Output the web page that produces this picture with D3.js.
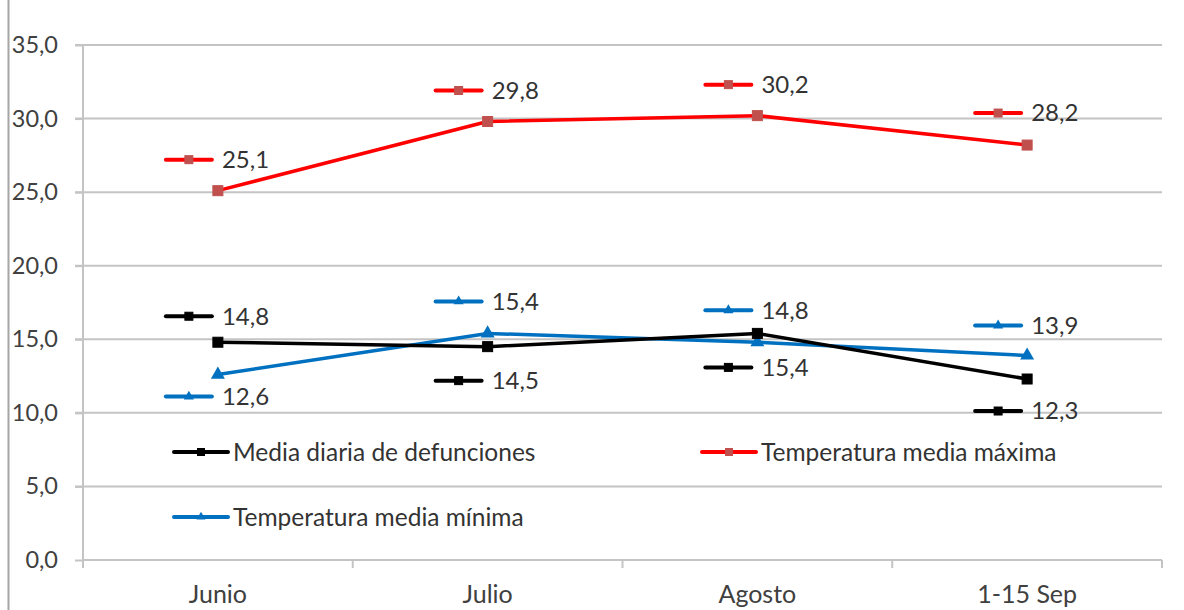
<!DOCTYPE html>
<html><head><meta charset="utf-8">
<script src="https://cdn.jsdelivr.net/npm/d3@7"></script>
<style>body{margin:0;background:#fff}svg{display:block}text{font-family:Lato,"Open Sans",sans-serif}</style>
</head><body><svg id="c" width="1184" height="610"></svg>
<script>
const categories = ["Junio","Julio","Agosto","1-15 Sep"];
const defunciones = [14.8,14.5,15.4,12.3];
const tempMax = [25.1,29.8,30.2,28.2];
const tempMin = [12.6,15.4,14.8,13.9];
const yTicks = [0,5,10,15,20,25,30,35];
const seriesNames = ["Media diaria de defunciones","Temperatura media máxima","Temperatura media mínima"];
// label offsets (px, positive = below point)
const labelDy = {
  def:[-26,34,34,32],
  max:[-31,-31,-31,-32],
  min:[22,-32,-32,-30]
};

const svg = d3.select("#c");
const W=1184,H=610;
const L=83,R=1162,T=45,B=560;
const x = d3.scaleBand().domain(categories).range([L,R]);
const y = d3.scaleLinear().domain([0,35]).range([B,T]);
const cx = c => x(c)+x.bandwidth()/2;
const fmt = v => v.toFixed(1).replace(".",",");

// chart border (left)
svg.append("line").attr("x1",8.5).attr("x2",8.5).attr("y1",0).attr("y2",H).attr("stroke","#a6a6a6").attr("stroke-width",2);

// gridlines
svg.append("g").selectAll("line").data(yTicks.filter(d=>d>0)).join("line")
  .attr("x1",L-8).attr("x2",R).attr("y1",d=>y(d)).attr("y2",d=>y(d))
  .attr("stroke","#c4c4c4").attr("stroke-width",2);

// y axis
const ya = svg.append("g").attr("transform",`translate(${L},0)`)
  .call(d3.axisLeft(y).tickValues(yTicks).tickFormat(fmt).tickSize(8).tickPadding(17));
ya.select(".domain").attr("stroke","#c4c4c4").attr("stroke-width",2).attr("d",`M0,${T}V${B}`);
ya.selectAll(".tick line").attr("stroke","#c4c4c4").attr("stroke-width",2);
ya.selectAll("text").attr("font-size",23.5).attr("fill","#404040");

// x axis
const xa = svg.append("g").attr("transform",`translate(0,${B})`)
  .call(d3.axisBottom(x).tickSize(0).tickPadding(25));
xa.select(".domain").attr("stroke","#c4c4c4").attr("stroke-width",2).attr("d",`M${L},0H${R}`);
xa.selectAll("text").attr("font-size",25).attr("fill","#404040");
const bounds = categories.map(c=>x(c)).concat([x(categories[categories.length-1])+x.bandwidth()]);
xa.selectAll(".bt").data(bounds).join("line").attr("class","bt")
  .attr("x1",d=>d).attr("x2",d=>d).attr("y1",0).attr("y2",8)
  .attr("stroke","#c4c4c4").attr("stroke-width",2);

const series = [
  {key:"def", name:seriesNames[0], vals:defunciones, color:"#000000", mcolor:"#000000", shape:"square"},
  {key:"max", name:seriesNames[1], vals:tempMax, color:"#ff0000", mcolor:"#c0504d", shape:"square"},
  {key:"min", name:seriesNames[2], vals:tempMin, color:"#0070c0", mcolor:"#0070c0", shape:"triangle"}
];

function marker(g, s, px, py, size){
  if(s.shape==="square"){
    g.append("rect").attr("x",px-size/2).attr("y",py-size/2).attr("width",size).attr("height",size)
      .attr("fill",s.mcolor).attr("stroke",s.mcolor).attr("stroke-width",1);
  } else {
    g.append("path").attr("d",d3.symbol(d3.symbolTriangle, size*size*0.7)()).attr("transform",`translate(${px},${py})`)
      .attr("fill",s.mcolor);
  }
}

function key(g, s, x0, x1, py, msize){
  g.append("line").attr("x1",x0).attr("x2",x1).attr("y1",py).attr("y2",py)
    .attr("stroke",s.color).attr("stroke-width",4).attr("stroke-linecap","round");
  marker(g, s, (x0+x1)/2, py, msize);
}

const line = d3.line().x((d,i)=>cx(categories[i])).y(d=>y(d));
[series[1], series[2], series[0]].forEach(s=>{
  const g = svg.append("g");
  g.append("path").attr("d",line(s.vals)).attr("fill","none").attr("stroke",s.color).attr("stroke-width",3.5).attr("stroke-linejoin","round");
  s.vals.forEach((v,i)=>marker(g,s,cx(categories[i]),y(v),s.shape==="square"?10:11));
});

// data labels with keys
series.forEach(s=>{
  const g = svg.append("g");
  s.vals.forEach((v,i)=>{
    const px = cx(categories[i]);
    const ly = y(v)+labelDy[s.key][i];
    key(g, s, px-52, px-6, ly, 8);
    g.append("text").attr("x",px+4).attr("y",ly).attr("dy","0.35em")
      .attr("font-size",24).attr("fill","#333").text(fmt(v));
  });
});

// legend
const legPos = [[174,452],[702,452],[174,517]];
series.forEach((s,i)=>{
  const g = svg.append("g");
  const [lx,ly] = legPos[i];
  key(g, s, lx, lx+54, ly, 7);
  g.append("text").attr("x",lx+59).attr("y",ly).attr("dy","0.35em")
    .attr("font-size",24.5).attr("fill","#333").text(s.name);
});
</script></body></html>
